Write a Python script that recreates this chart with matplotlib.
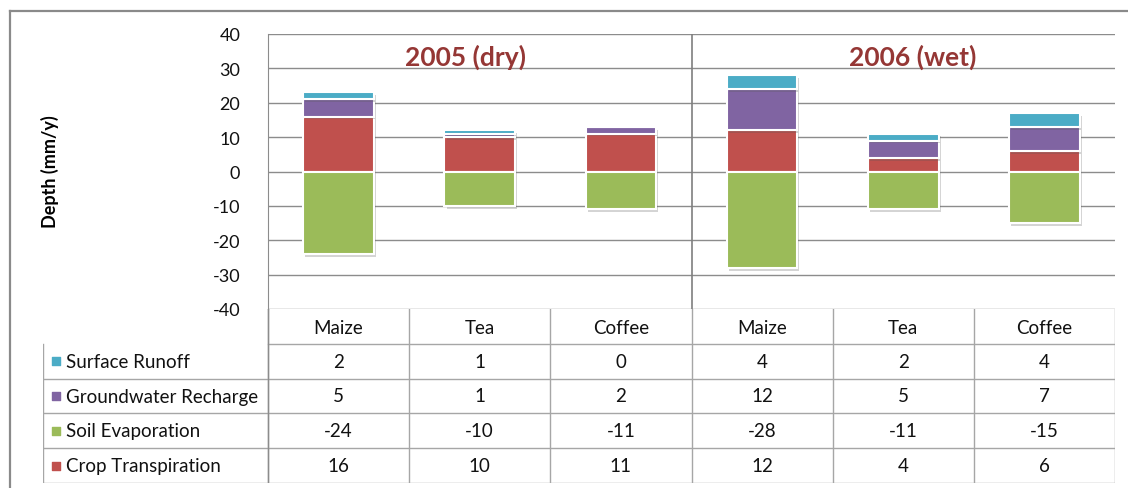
import numpy as np
import matplotlib.pyplot as plt
import matplotlib.patheffects as pe
from matplotlib.lines import Line2D

plt.rcParams['font.family'] = ['Lato', 'DejaVu Sans']
plt.rcParams['axes.unicode_minus'] = False

crops = ["Maize", "Tea", "Coffee", "Maize", "Tea", "Coffee"]
years = ["2005 (dry)", "2006 (wet)"]

surface_runoff = [2, 1, 0, 4, 2, 4]
groundwater_recharge = [5, 1, 2, 12, 5, 7]
soil_evaporation = [-24, -10, -11, -28, -11, -15]
crop_transpiration = [16, 10, 11, 12, 4, 6]

series_names = ["Surface Runoff", "Groundwater Recharge", "Soil Evaporation", "Crop Transpiration"]
series_values = [surface_runoff, groundwater_recharge, soil_evaporation, crop_transpiration]
series_colors = ["#4bacc6", "#8064a2", "#9bbb59", "#c0504d"]

W, H = 1128, 489
fig = plt.figure(figsize=(W / 100, H / 100), dpi=100)

# pixel helpers
def box(x0, y0, x1, y1):
    return [x0 / W, 1 - y1 / H, (x1 - x0) / W, (y1 - y0) / H]

# outer frame (top + left edges)
fig.add_artist(Line2D([10 / W, 1], [1 - 12 / H, 1 - 12 / H], color="#8a8a8a", lw=1.6))
fig.add_artist(Line2D([10 / W, 10 / W], [0, 1 - 12 / H], color="#8a8a8a", lw=1.6))

ax = fig.add_axes(box(268, 35, 1115, 310))
x = np.arange(len(crops))
shadow = [pe.SimplePatchShadow(offset=(1.5, -2), alpha=0.25, shadow_rgbFace="#555555"), pe.Normal()]

tr = np.array(crop_transpiration)
gr = np.array(groundwater_recharge)
sr = np.array(surface_runoff)
ev = np.array(soil_evaporation)

# positive stack: transpiration, recharge, runoff; evaporation hangs below zero
for bottom, vals, col in [(0, tr, "#c0504d"), (tr, gr, "#8064a2"), (tr + gr, sr, "#4bacc6"), (0, ev, "#9bbb59")]:
    bars = ax.bar(x, vals, 0.5, bottom=bottom, color=col, edgecolor="white", linewidth=1.5, zorder=3)
    for b in bars:
        if b.get_height() != 0:
            b.set_path_effects(shadow)

ax.set_xlim(-0.5, 5.5)
ax.set_ylim(-40, 40)
ax.set_yticks(np.arange(-40, 41, 10))
ax.tick_params(axis="y", length=0, labelsize=13, pad=20, labelcolor="#111111")
ax.set_xticks([])
ax.grid(axis="y", color="#8c8c8c", lw=1)
ax.set_axisbelow(True)
for s in ["top", "right", "bottom"]:
    ax.spines[s].set_visible(False)
ax.spines["left"].set_color("#8c8c8c")
ax.axvline(2.5, color="#7f7f7f", lw=1.2, zorder=2)

# year headings, set a little off the group centres
for xpos, yr in zip([0.9, 4.07], years):
    ax.text(xpos, 33.6, yr, ha="center", va="center", fontsize=19,
            fontweight="bold", color="#953735", zorder=4)

fig.text(50 / W, 1 - 172 / H, "Depth (mm/y)", rotation=90, ha="center", va="center",
         fontsize=13, fontweight="bold")

# data table below the plot, same column scale as the bars
col_w = 847 / 6
left_w = (268 - 43) / col_w
tax = fig.add_axes(box(43, 310, 1115, 484))
tax.set_xlim(-0.5 - left_w, 5.5)
tax.set_ylim(5, 0)
tax.axis("off")
lc = "#a6a6a6"
tax.plot([-0.5, 5.5], [1, 1], color=lc, lw=1)
for r in range(2, 6):
    tax.plot([-0.5 - left_w, 5.5], [r, r], color=lc, lw=1)
for c in range(7):
    tax.plot([c - 0.5, c - 0.5], [0, 5], color=lc, lw=1)
tax.plot([-0.5 - left_w] * 2, [1, 5], color=lc, lw=1)
tax.plot([-0.5, -0.5], [0, 5], color="#8c8c8c", lw=1)

for i, c in enumerate(crops):
    tax.text(i, 0.53, c, ha="center", va="center", fontsize=13.5, color="#111111")
for r, (name, vals, col) in enumerate(zip(series_names, series_values, series_colors)):
    yr = r + 1.5
    tax.scatter([-0.5 - left_w + 0.09], [yr], marker="s", s=36, color=col, clip_on=False)
    tax.text(-0.5 - left_w + 0.165, yr, name, ha="left", va="center", fontsize=13.5, color="#111111")
    for i, v in enumerate(vals):
        tax.text(i, yr, str(v), ha="center", va="center", fontsize=13.5, color="#111111")

fig.savefig("out.png", dpi=100)
